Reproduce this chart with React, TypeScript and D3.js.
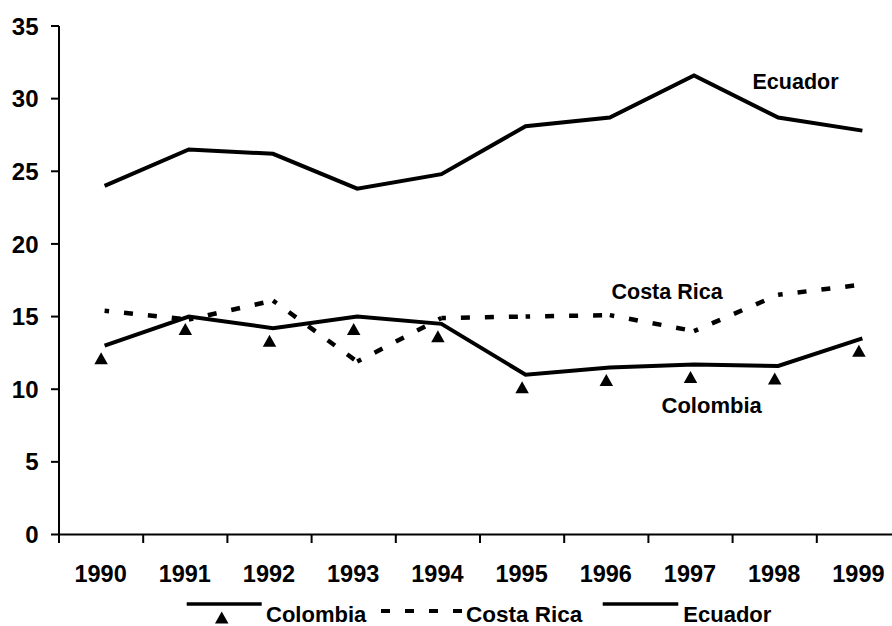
import React from "react";
import * as d3 from "d3";

const years = ["1990", "1991", "1992", "1993", "1994", "1995", "1996", "1997", "1998", "1999"];
const colombia = [13.0, 15.0, 14.2, 15.0, 14.5, 11.0, 11.5, 11.7, 11.6, 13.5];
const costaRica = [15.4, 14.8, 16.1, 11.9, 14.9, 15.0, 15.1, 14.0, 16.5, 17.2];
const ecuador = [24.0, 26.5, 26.2, 23.8, 24.8, 28.1, 28.7, 31.6, 28.7, 27.8];
const yTicks = [0, 5, 10, 15, 20, 25, 30, 35];
const legendItems = ["Colombia", "Costa Rica", "Ecuador"];

const W = 892;
const H = 626;
const FONT = "'Liberation Sans', Arial, Helvetica, sans-serif";

export default function App() {
  const left = 59;
  const bottom = 534.5;
  const top = 26;
  const step = 84.2;
  const x = d3.scaleBand<string>().domain(years).range([left, left + step * years.length]).padding(0);
  const y = d3.scaleLinear().domain([0, 35]).range([bottom, top]);
  const cx = (i: number) => (x(years[i]) as number) + x.bandwidth() / 2;
  const lineOff = 3.5;

  const line = d3
    .line<number>()
    .x((_, i) => cx(i) + lineOff)
    .y((d) => y(d));

  const triPath = (px: number, topY: number, w = 13.5, h = 12) => {
    const p = d3.path();
    p.moveTo(px, topY);
    p.lineTo(px + w / 2, topY + h);
    p.lineTo(px - w / 2, topY + h);
    p.closePath();
    return p.toString();
  };

  const crSegments = costaRica.slice(0, -1).map((v, i) => [v, costaRica[i + 1]]);
  const segLine = (i: number) =>
    d3
      .line<number>()
      .x((_, j) => cx(i + j) + lineOff)
      .y((d) => y(d));

  const boundaries = d3.range(years.length + 1).map((i) => left + i * step);

  return (
    <svg
      width={W}
      height={H}
      style={{ position: "absolute", left: 0, top: 0, display: "block", background: "#fff" }}
      fontFamily={FONT}
      fontWeight="bold"
    >
      <rect width={W} height={H} fill="#fff" />
      <line x1={left} x2={left} y1={top} y2={bottom} stroke="#000" strokeWidth={2} />
      {yTicks.map((t) => (
        <g key={t}>
          <line x1={left - 8} x2={left} y1={y(t)} y2={y(t)} stroke="#000" strokeWidth={2} />
          <text x={38.5} y={y(t)} dy="0.36em" textAnchor="end" fontSize={24}>
            {t}
          </text>
        </g>
      ))}
      <line x1={left} x2={W} y1={bottom} y2={bottom} stroke="#000" strokeWidth={2} />
      {boundaries.map((b, i) => (
        <line key={i} x1={b} x2={b} y1={bottom} y2={bottom + 8.5} stroke="#000" strokeWidth={2} />
      ))}
      {years.map((yr, i) => (
        <text key={yr} x={cx(i) - 0.5} y={581.5} textAnchor="middle" fontSize={23.5}>
          {yr}
        </text>
      ))}

      <path d={line(ecuador) || ""} fill="none" stroke="#000" strokeWidth={4} strokeLinejoin="miter" />
      {crSegments.map((seg, i) => (
        <path
          key={i}
          d={segLine(i)(seg) || ""}
          fill="none"
          stroke="#000"
          strokeWidth={4.5}
          strokeDasharray="9 15"
          strokeDashoffset={4.5}
        />
      ))}
      <path d={line(colombia) || ""} fill="none" stroke="#000" strokeWidth={4} strokeLinejoin="miter" />
      {colombia.map((v, i) => (
        <path key={i} d={triPath(cx(i), y(v) + 6.5)} fill="#000" />
      ))}

      <text x={752.5} y={89} fontSize={21.5}>Ecuador</text>
      <text x={611.5} y={299} fontSize={21.5}>Costa Rica</text>
      <text x={661.5} y={412.5} fontSize={22}>Colombia</text>

      <g>
        <line x1={186.7} x2={261.7} y1={604} y2={604} stroke="#000" strokeWidth={3.5} />
        <path d={triPath(221.7, 611.5)} fill="#000" />
        <text x={266} y={621.5} fontSize={22}>{legendItems[0]}</text>
        <line x1={381} x2={462} y1={611} y2={611} stroke="#000" strokeWidth={4} strokeDasharray="9 15" />
        <text x={466} y={621.5} fontSize={22.5}>{legendItems[1]}</text>
        <line x1={602.7} x2={678.3} y1={604} y2={604} stroke="#000" strokeWidth={3.5} />
        <text x={683.3} y={621.5} fontSize={22}>{legendItems[2]}</text>
      </g>
    </svg>
  );
}
